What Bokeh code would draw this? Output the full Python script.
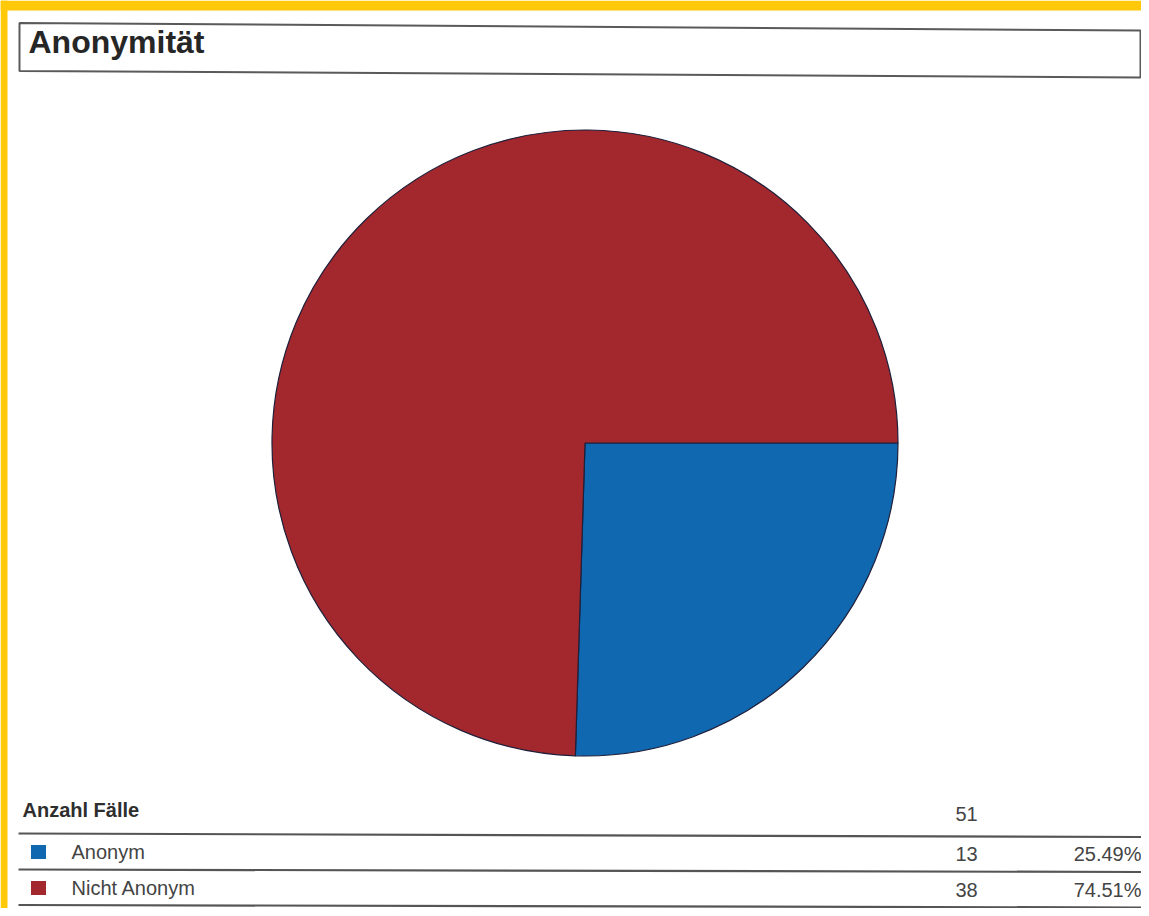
import math
from bokeh.plotting import figure
from bokeh.models import Range1d, ColumnDataSource
from bokeh.core.properties import value
from bokeh.embed import file_html
from bokeh.resources import INLINE

# ---- data ----
title = "Anonymität"
table_header = "Anzahl Fälle"
categories = ["Anonym", "Nicht Anonym"]
counts = [13, 38]
colors = ["#1068B0", "#A3282E"]

total = sum(counts)
percents = [c / total * 100 for c in counts]
pct_labels = ["%.2f%%" % v for v in percents]

W, H = 1141, 908


def Y(img_y):
    # picture row -> data y
    return H - img_y


def TB(img_y, fs):
    # baseline correction for text
    return Y(img_y - 0.36 * fs)


p = figure(width=W, height=H, x_range=Range1d(0, W), y_range=Range1d(0, H),
           output_backend="svg", toolbar_location=None, min_border=0,
           x_axis_type=None, y_axis_type=None)
p.outline_line_color = None
p.grid.visible = False
p.background_fill_color = "white"
p.border_fill_color = "white"

FONT = value("Liberation Sans")

# ---- yellow frame of the scan (top and left) ----
p.quad(left=[0, 0], right=[W, 7], top=[Y(0), Y(0)], bottom=[Y(10), Y(H)],
       fill_color="#FFC808", line_color=None)

# ---- title box (slightly skewed like the scan) ----
p.patch([19, 1140, 1140, 19], [Y(22.5), Y(30), Y(77), Y(70.5)],
        fill_color="white", line_color="#5a5a5a", line_width=2)
p.text(x=[28], y=[TB(53, 32)], text=[title], text_font=FONT, text_font_size="32px",
       text_font_style="bold", text_color="#262626", text_baseline="alphabetic")

# ---- pie ----
cx, cy, r = 584.5, Y(442.5), 313
cum = 0.0
starts, ends = [], []
for c in counts:
    a0 = cum / total * 2 * math.pi
    cum += c
    a1 = cum / total * 2 * math.pi
    starts.append(-a1)
    ends.append(-a0)
pie_src = ColumnDataSource(dict(x=[cx] * len(counts), y=[cy] * len(counts),
                                start=starts, end=ends, color=colors))
p.wedge(x="x", y="y", radius=r, start_angle="start", end_angle="end",
        direction="anticlock", fill_color="color", line_color="#1f1f3a",
        line_width=1.2, source=pie_src)

# ---- table ----
line_rows = [(833, 836.5), (869, 871.5), (904.5, 907)]
for yl, yr in line_rows:
    p.segment(x0=[18], y0=[Y(yl)], x1=[W], y1=[Y(yr)],
              line_color="#555555", line_width=2.2)

FS = 20
p.text(x=[22], y=[TB(817, FS)], text=[table_header], text_font=FONT,
       text_font_size="%dpx" % FS, text_font_style="bold", text_color="#2e2e2e",
       text_baseline="alphabetic")
p.text(x=[955], y=[TB(821, FS)], text=[str(total)], text_font=FONT,
       text_font_size="%dpx" % FS, text_color="#444444", text_baseline="alphabetic")

row_base = [858.5, 894.5]
row_base_r = [860.5, 896.5]
row_src = ColumnDataSource(dict(
    sx=[38, 38], sy=[Y(b - 7) for b in row_base], color=colors,
    lx=[71, 71], ly=[TB(b, FS) for b in row_base], label=categories,
    nx=[955, 955], ny=[TB(b, FS) for b in row_base_r], num=[str(c) for c in counts],
    px=[1141, 1141], pct=pct_labels,
))
p.rect(x="sx", y="sy", width=15, height=14, fill_color="color", line_color=None,
       source=row_src)
p.text(x="lx", y="ly", text="label", text_font=FONT, text_font_size="%dpx" % FS,
       text_color="#444444", text_baseline="alphabetic", source=row_src)
p.text(x="nx", y="ny", text="num", text_font=FONT, text_font_size="%dpx" % FS,
       text_color="#444444", text_baseline="alphabetic", source=row_src)
p.text(x="px", y="ny", text="pct", text_font=FONT, text_font_size="%dpx" % FS,
       text_color="#444444", text_baseline="alphabetic", text_align="right",
       source=row_src)

open("out.html", "w").write(file_html(p, INLINE))
